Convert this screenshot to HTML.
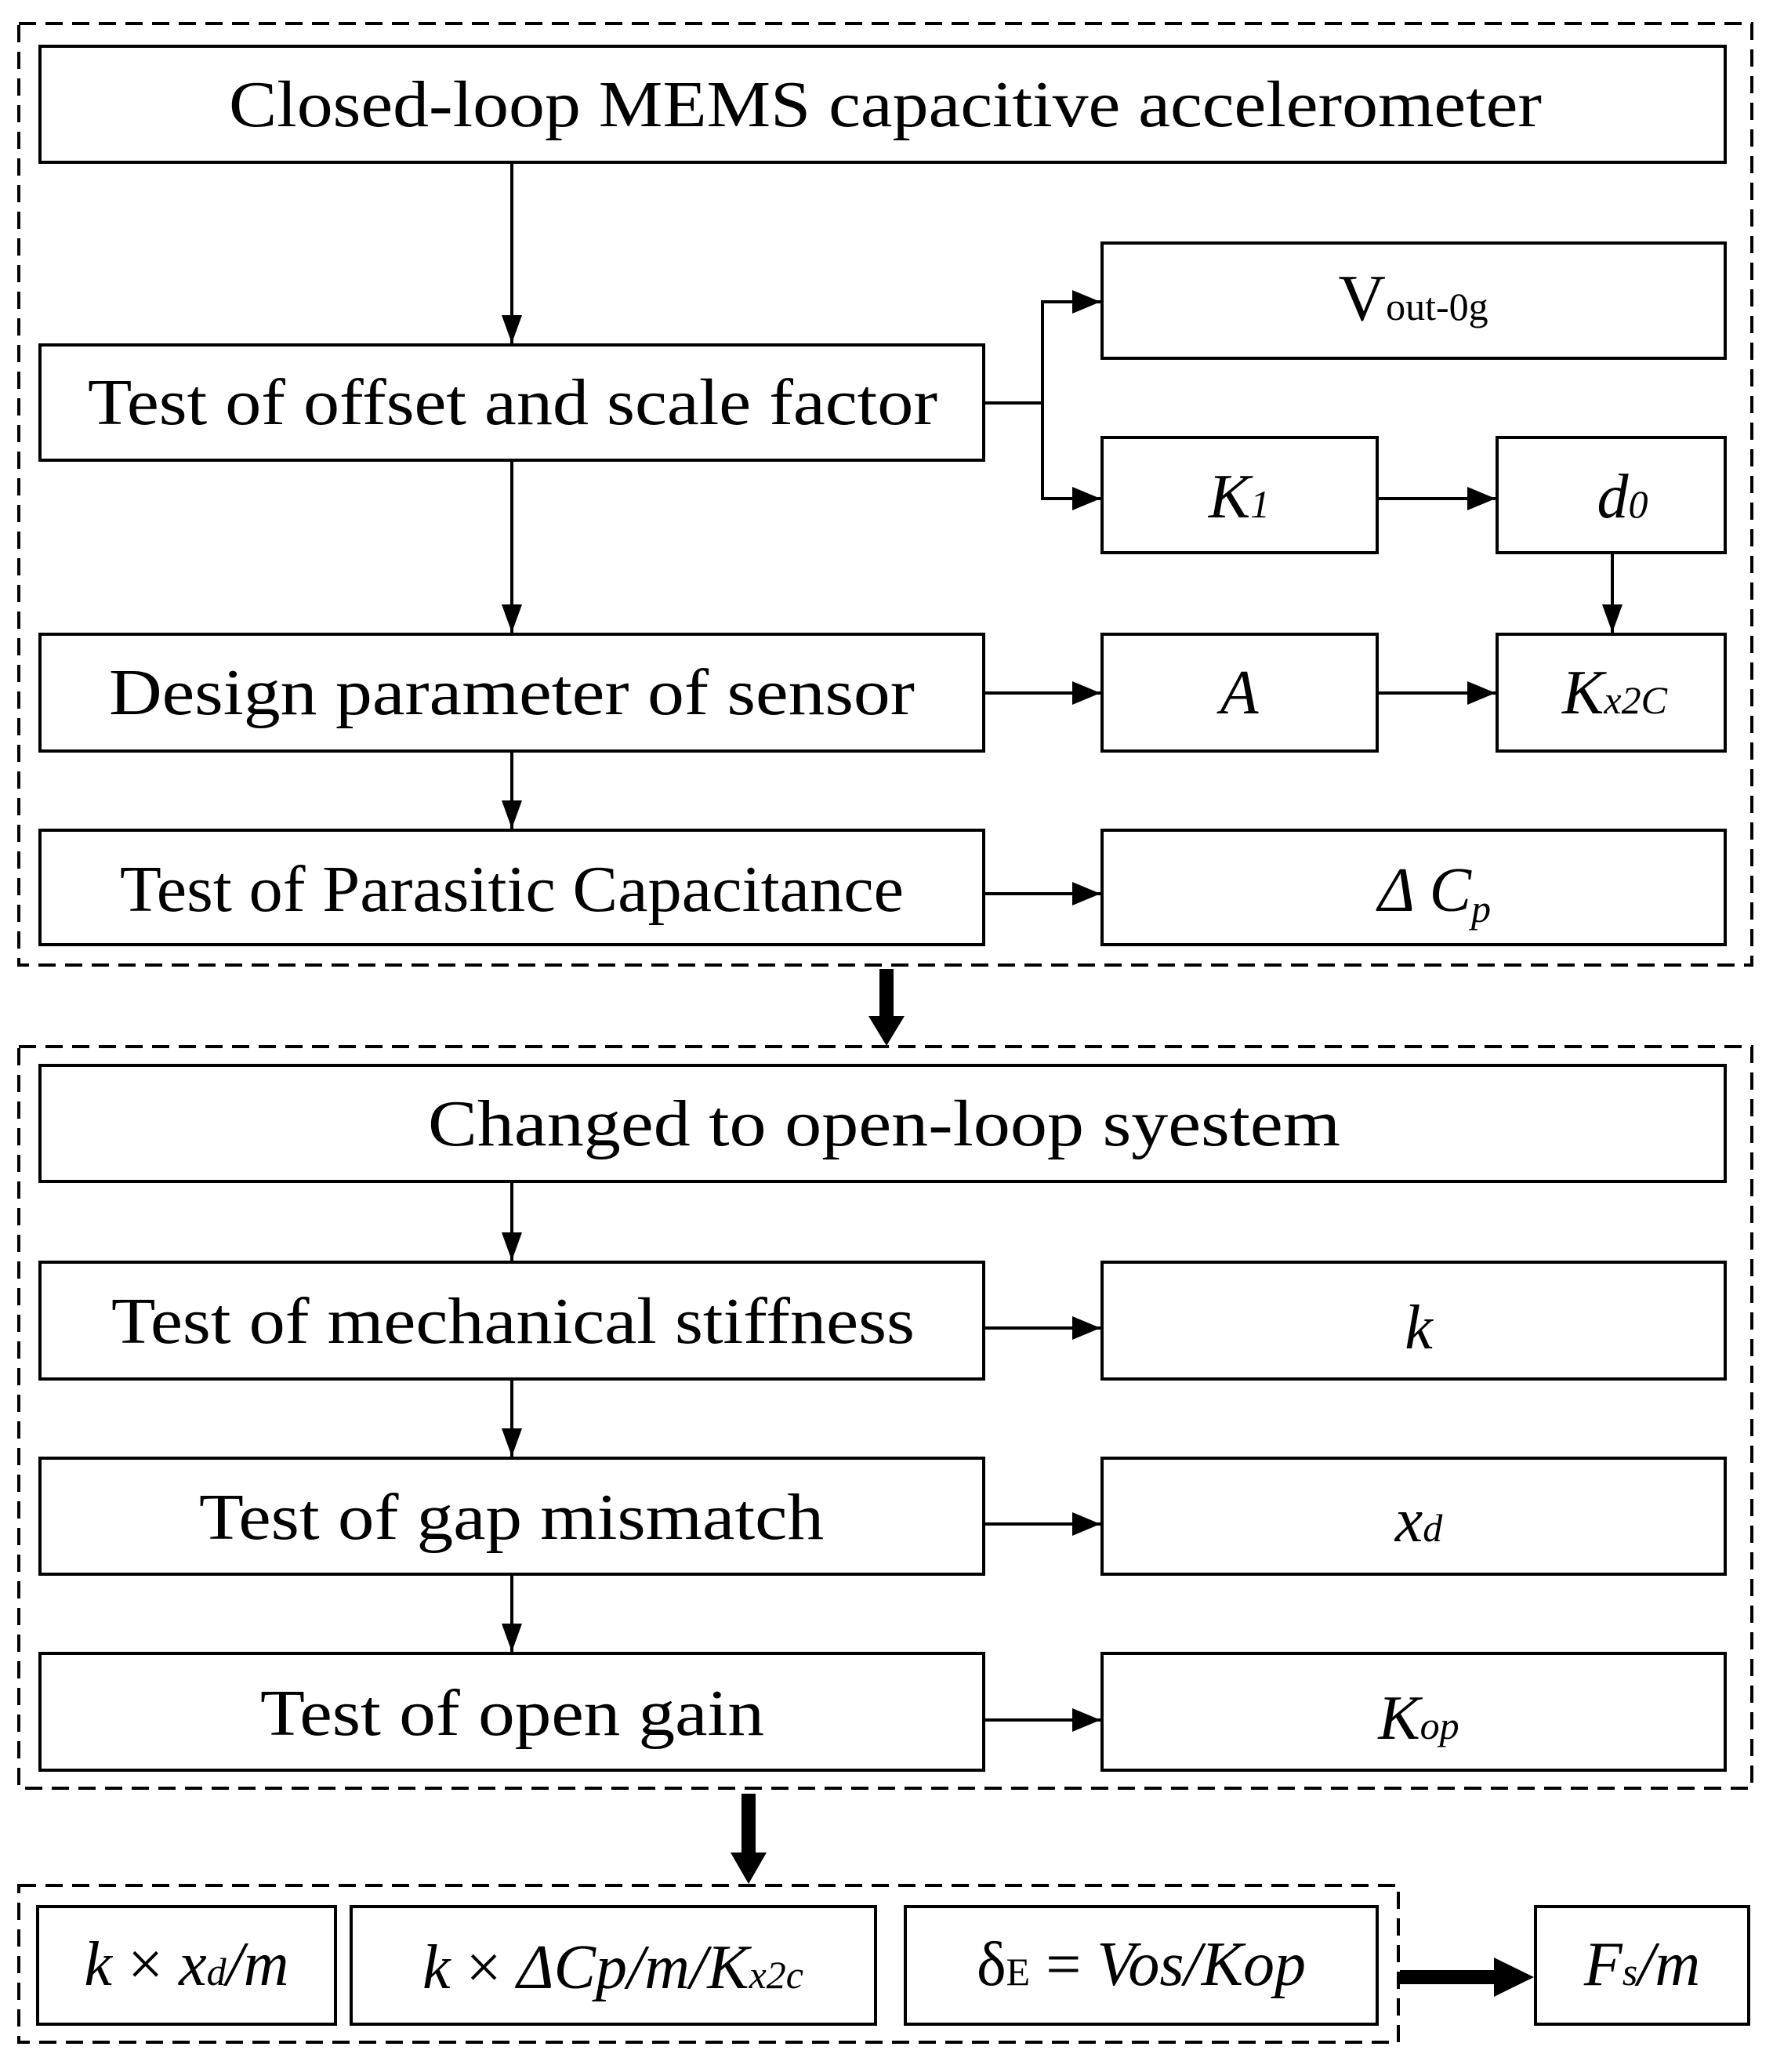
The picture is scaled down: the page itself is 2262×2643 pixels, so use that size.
<!DOCTYPE html>
<html><head><meta charset="utf-8"><style>
html,body{margin:0;padding:0;background:#fff;}
svg{display:block;}
text{font-family:"Liberation Serif",serif;fill:#000;}
.t{font-size:84px;}
.m{font-size:80px;font-style:italic;}
.s{font-size:50px;}
</style></head><body>
<svg width="2262" height="2643" viewBox="0 0 2262 2643" xmlns="http://www.w3.org/2000/svg">
<defs>
<marker id="a" markerWidth="10" markerHeight="10" refX="9" refY="5" orient="auto" markerUnits="userSpaceOnUse" viewBox="0 0 10 10"><path d="M0,0 L10,5 L0,10z" fill="#000"/></marker>
<marker id="ah" markerWidth="36" markerHeight="30" refX="36" refY="15" orient="auto" markerUnits="userSpaceOnUse"><path d="M0,0 L36,15 L0,30z" fill="#000"/></marker>
<marker id="av" markerWidth="36" markerHeight="26" refX="36" refY="13" orient="auto" markerUnits="userSpaceOnUse"><path d="M0,0 L36,13 L0,26z" fill="#000"/></marker>
</defs>
<g fill="none" stroke="#000" stroke-width="4" stroke-dasharray="22,12">
<rect x="24" y="30" width="2211" height="1201"/>
<rect x="24" y="1335" width="2211" height="946"/>
<rect x="24" y="2405" width="1760" height="200"/>
</g>
<g fill="#fff" stroke="#000" stroke-width="4">
<rect x="51" y="59" width="2150" height="148"/>
<rect x="51" y="440" width="1204" height="147"/>
<rect x="1406" y="310" width="795" height="147"/>
<rect x="1406" y="558" width="351" height="147"/>
<rect x="1910" y="558" width="291" height="147"/>
<rect x="51" y="809" width="1204" height="149"/>
<rect x="1406" y="809" width="351" height="149"/>
<rect x="1910" y="809" width="291" height="149"/>
<rect x="51" y="1059" width="1204" height="146"/>
<rect x="1406" y="1059" width="795" height="146"/>
<rect x="51" y="1359" width="2150" height="148"/>
<rect x="51" y="1610" width="1204" height="149"/>
<rect x="1406" y="1610" width="795" height="149"/>
<rect x="51" y="1860" width="1204" height="148"/>
<rect x="1406" y="1860" width="795" height="148"/>
<rect x="51" y="2109" width="1204" height="149"/>
<rect x="1406" y="2109" width="795" height="149"/>
<rect x="48" y="2432" width="380" height="150"/>
<rect x="448" y="2432" width="669" height="150"/>
<rect x="1155" y="2432" width="602" height="150"/>
<rect x="1959" y="2432" width="272" height="150"/>
</g>
<g stroke="#000" stroke-width="4" fill="none">
<line x1="653" y1="207" x2="653" y2="438" marker-end="url(#av)"/>
<line x1="653" y1="587" x2="653" y2="807" marker-end="url(#av)"/>
<line x1="653" y1="958" x2="653" y2="1057" marker-end="url(#av)"/>
<polyline points="1255,514 1330,514 1330,385 1404,385" marker-end="url(#ah)"/>
<polyline points="1330,514 1330,636 1404,636" marker-end="url(#ah)"/>
<line x1="1757" y1="636" x2="1908" y2="636" marker-end="url(#ah)"/>
<line x1="2057" y1="705" x2="2057" y2="807" marker-end="url(#av)"/>
<line x1="1255" y1="884" x2="1404" y2="884" marker-end="url(#ah)"/>
<line x1="1757" y1="884" x2="1908" y2="884" marker-end="url(#ah)"/>
<line x1="1255" y1="1140" x2="1404" y2="1140" marker-end="url(#ah)"/>
<line x1="653" y1="1507" x2="653" y2="1608" marker-end="url(#av)"/>
<line x1="653" y1="1759" x2="653" y2="1858" marker-end="url(#av)"/>
<line x1="653" y1="2008" x2="653" y2="2107" marker-end="url(#av)"/>
<line x1="1255" y1="1694" x2="1404" y2="1694" marker-end="url(#ah)"/>
<line x1="1255" y1="1944" x2="1404" y2="1944" marker-end="url(#ah)"/>
<line x1="1255" y1="2194" x2="1404" y2="2194" marker-end="url(#ah)"/>
</g>
<!-- thick arrows -->
<rect x="1122" y="1236" width="18" height="60" fill="#000"/>
<path d="M1108,1296 L1154,1296 L1131,1334z" fill="#000"/>
<rect x="946" y="2288" width="18" height="75" fill="#000"/>
<path d="M932,2363 L978,2363 L955,2403z" fill="#000"/>
<rect x="1786" y="2513" width="120" height="18" fill="#000"/>
<path d="M1906,2497 L1957,2522 L1906,2547z" fill="#000"/>
<g class="t">
<text x="292" y="161" textLength="1675" lengthAdjust="spacingAndGlyphs">Closed-loop MEMS capacitive accelerometer</text>
<text x="112" y="541" textLength="1084" lengthAdjust="spacingAndGlyphs">Test of offset and scale factor</text>
<text x="139" y="911" textLength="1028" lengthAdjust="spacingAndGlyphs">Design parameter of sensor</text>
<text x="153" y="1162" textLength="1000" lengthAdjust="spacingAndGlyphs">Test of Parasitic Capacitance</text>
<text x="546" y="1461" textLength="1164" lengthAdjust="spacingAndGlyphs">Changed to open-loop syestem</text>
<text x="142" y="1713" textLength="1025" lengthAdjust="spacingAndGlyphs">Test of mechanical stiffness</text>
<text x="254" y="1963" textLength="797" lengthAdjust="spacingAndGlyphs">Test of gap mismatch</text>
<text x="332" y="2213" textLength="643" lengthAdjust="spacingAndGlyphs">Test of open gain</text>
</g>
<text x="1803" y="408" text-anchor="middle" class="t">V<tspan class="s">out-0g</tspan></text>
<text x="1581" y="660" text-anchor="middle" class="m">K<tspan class="s">1</tspan></text>
<text x="2070" y="660" text-anchor="middle" class="m">d<tspan class="s">0</tspan></text>
<text x="1581" y="910" text-anchor="middle" class="m">A</text>
<text x="2060" y="910" text-anchor="middle" class="m">K<tspan class="s">x2C</tspan></text>
<text x="1830" y="1162" text-anchor="middle" class="m">Δ C<tspan class="s" dy="14">p</tspan></text>
<text x="1810" y="1720" text-anchor="middle" class="m">k</text>
<text x="1810" y="1966" text-anchor="middle" class="m">x<tspan class="s">d</tspan></text>
<text x="1810" y="2218" text-anchor="middle" class="m">K<tspan class="s">op</tspan></text>
<text x="238" y="2532" text-anchor="middle" class="m">k <tspan font-style="normal">×</tspan> x<tspan class="s">d</tspan>/m</text>
<text x="782" y="2536" text-anchor="middle" class="m">k <tspan font-style="normal">×</tspan>  ΔCp/m/K<tspan class="s">x2c</tspan></text>
<text x="1456" y="2532" text-anchor="middle" class="m"><tspan font-style="normal">δ</tspan><tspan class="s" font-style="normal">E</tspan><tspan font-style="normal"> = </tspan>Vos/Kop</text>
<text x="2095" y="2532" text-anchor="middle" class="m">F<tspan class="s">s</tspan>/m</text>
</svg>
</body></html>
